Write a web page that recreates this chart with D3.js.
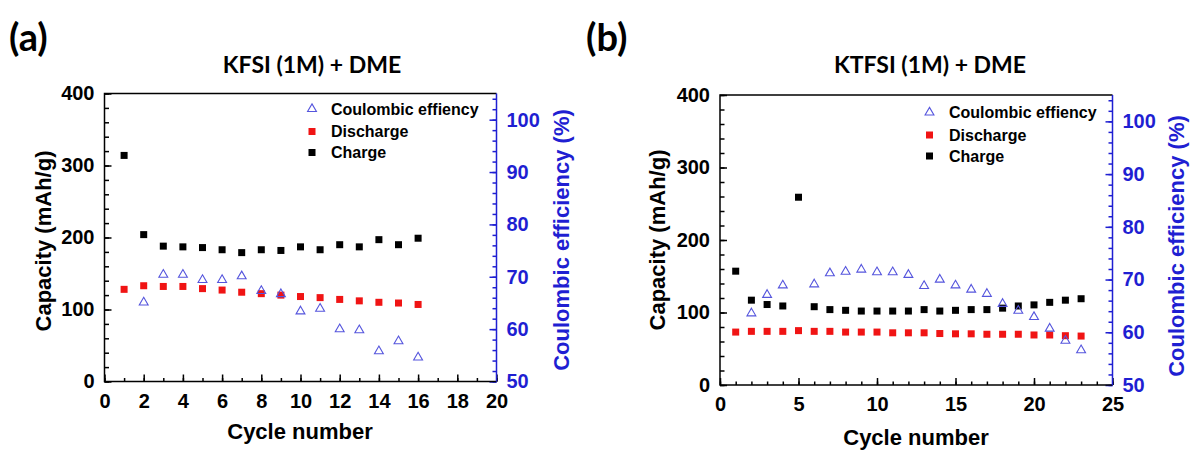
<!DOCTYPE html>
<html>
<head>
<meta charset="utf-8">
<style>
body { margin: 0; background: #fff; }
svg text { font-family: "Liberation Sans", Arial, sans-serif; font-weight: bold; }
</style>
</head>
<body>
<script src="https://cdn.jsdelivr.net/npm/d3@7"></script>
<script>
// (a) KFSI (1M) + DME
var cycleA     = [1, 2, 3, 4, 5, 6, 7, 8, 9, 10, 11, 12, 13, 14, 15, 16];
var chargeA    = [314, 204, 188, 187, 186, 183, 179, 183, 182, 187, 183, 190, 187, 197, 190, 199];
var dischargeA = [128, 133, 132, 132, 129, 127, 124, 122, 120, 118, 116.5, 114, 112, 110, 109, 107];
var ceCycleA   = [2, 3, 4, 5, 6, 7, 8, 9, 10, 11, 12, 13, 14, 15, 16];
var ceA        = [65.1, 70.4, 70.4, 69.4, 69.4, 70.1, 67.3, 66.7, 63.4, 63.9, 60.0, 59.8, 55.8, 57.7, 54.6];

// (b) KTFSI (1M) + DME
var cycleB     = [1, 2, 3, 4, 5, 6, 7, 8, 9, 10, 11, 12, 13, 14, 15, 16, 17, 18, 19, 20, 21, 22, 23];
var chargeB    = [157, 117, 111, 109, 259, 108, 104, 103, 102, 102, 102, 102, 104, 102, 103, 104, 104, 106, 109, 110.5, 114, 117, 119];
var dischargeB = [73, 74, 74, 74, 75, 74, 74, 73, 73, 73, 72, 72, 72, 71, 70.6, 70.6, 70, 70, 70, 69, 69, 68, 67.5];
var ceCycleB   = [2, 3, 4, 6, 7, 8, 9, 10, 11, 12, 13, 14, 15, 16, 17, 18, 19, 20, 21, 22, 23];
var ceB        = [63.6, 67.1, 68.9, 69.1, 71.2, 71.5, 71.9, 71.4, 71.4, 70.9, 68.8, 70.0, 68.9, 68.1, 67.3, 65.4, 64.1, 62.9, 60.7, 58.4, 56.6];

var legendLabels = ["Coulombic effiency", "Discharge", "Charge"];

var blue = "#1f1fd2";
var triColor = "#5555dd";
var red = "#f01414";

var svg = d3.select("body").append("svg")
    .attr("width", 1190)
    .attr("height", 450);

function drawPanel(p) {
    var x = d3.scaleLinear().domain([0, p.xMax]).range([p.left, p.right]);
    var y = d3.scaleLinear().domain([0, 400]).range([p.bottom, p.top]);
    var y2 = d3.scaleLinear().domain([50, 105]).range([p.bottom, p.top]);

    var g = svg.append("g");

    // minor ticks
    g.append("g")
        .attr("transform", "translate(0," + p.bottom + ")")
        .call(d3.axisBottom(x).tickValues(d3.range(0, p.xMax + 1, 1)).tickSize(-3.5).tickFormat(""))
        .call(function(a) { a.select(".domain").remove(); });
    g.append("g")
        .attr("transform", "translate(" + p.left + ",0)")
        .call(d3.axisLeft(y).tickValues(d3.range(0, 401, 20)).tickSize(-4.5).tickFormat(""))
        .call(function(a) { a.select(".domain").remove(); });
    g.append("g")
        .attr("transform", "translate(" + p.right + ",0)")
        .call(d3.axisRight(y2).tickValues(d3.range(50, 105, 2)).tickSize(-4).tickFormat(""))
        .call(function(a) { a.select(".domain").remove(); a.selectAll("line").attr("stroke", blue); });

    // major ticks + labels
    var xAxis = g.append("g")
        .attr("transform", "translate(0," + p.bottom + ")")
        .call(d3.axisBottom(x).tickValues(d3.range(0, p.xMax + 1, p.xStep)).tickSize(-7).tickPadding(12));
    xAxis.select(".domain").remove();

    var yAxis = g.append("g")
        .attr("transform", "translate(" + p.left + ",0)")
        .call(d3.axisLeft(y).tickValues([0, 100, 200, 300, 400]).tickSize(-7).tickPadding(10));
    yAxis.select(".domain").remove();

    var y2Axis = g.append("g")
        .attr("transform", "translate(" + p.right + ",0)")
        .call(d3.axisRight(y2).tickValues([50, 60, 70, 80, 90, 100]).tickSize(-7).tickPadding(10));
    y2Axis.select(".domain").remove();
    y2Axis.selectAll("line").attr("stroke", blue);
    y2Axis.selectAll("text").attr("fill", blue);

    g.selectAll(".tick text")
        .style("font-size", "20px")
        .style("font-family", "'Liberation Sans', Arial, sans-serif")
        .style("font-weight", "bold");
    g.selectAll(".tick line").attr("stroke-width", 1.5);
    xAxis.selectAll("text").attr("dy", "0.71em");

    // frame
    g.append("path")
        .attr("d", "M" + p.right + "," + p.top + "H" + p.left + "V" + p.bottom + "H" + p.right)
        .attr("fill", "none").attr("stroke", "#000").attr("stroke-width", 1.5);
    g.append("line")
        .attr("x1", p.right).attr("x2", p.right).attr("y1", p.top).attr("y2", p.bottom)
        .attr("stroke", blue).attr("stroke-width", 1.5);

    var sq = 7;
    g.selectAll(".dis").data(p.cycle).enter().append("rect")
        .attr("x", function(d) { return x(d) - sq / 2; })
        .attr("y", function(d, i) { return y(p.discharge[i]) - sq / 2; })
        .attr("width", sq).attr("height", sq).attr("fill", red);
    g.selectAll(".chg").data(p.cycle).enter().append("rect")
        .attr("x", function(d) { return x(d) - sq / 2; })
        .attr("y", function(d, i) { return y(p.charge[i]) - sq / 2; })
        .attr("width", sq).attr("height", sq).attr("fill", "#000");

    var tri = d3.symbol().type(d3.symbolTriangle).size(34);
    g.selectAll(".ce").data(p.ceCycle).enter().append("path")
        .attr("d", tri)
        .attr("transform", function(d, i) { return "translate(" + x(d) + "," + y2(p.ce[i]) + ")"; })
        .attr("fill", "none").attr("stroke", triColor).attr("stroke-width", 1.1);

    // legend
    var lg = g.append("g");
    lg.append("path").attr("d", tri)
        .attr("transform", "translate(" + p.legX + "," + p.legY[0] + ")")
        .attr("fill", "none").attr("stroke", triColor).attr("stroke-width", 1.1);
    lg.append("rect").attr("x", p.legX - 3.5).attr("y", p.legY[1] - 3.5)
        .attr("width", 7).attr("height", 7).attr("fill", red);
    lg.append("rect").attr("x", p.legX - 3.5).attr("y", p.legY[2] - 3.5)
        .attr("width", 7).attr("height", 7).attr("fill", "#000");
    legendLabels.forEach(function(t, i) {
        lg.append("text").attr("x", p.legTextX).attr("y", p.legY[i])
            .attr("dy", "0.36em").style("font-size", "16px").text(t);
    });

    // titles
    g.append("text").attr("x", p.titleX).attr("y", 65).attr("dy", "0.35em")
        .attr("text-anchor", "middle")
        .style("font-family", "Lato, sans-serif").style("font-size", "23px")
        .text(p.title);
    g.append("text").attr("x", p.letterX).attr("y", 38).attr("dy", "0.35em")
        .style("font-family", "Lato, sans-serif").style("font-size", "38px")
        .text(p.letter);

    g.append("text").attr("x", p.xTitleX).attr("y", p.xTitleY).attr("dy", "0.35em")
        .attr("text-anchor", "middle").style("font-size", "22px")
        .text("Cycle number");
    g.append("text")
        .attr("transform", "translate(" + p.yTitleX + "," + p.yTitleY + ") rotate(-90)")
        .attr("dy", "0.35em").attr("text-anchor", "middle").style("font-size", "22px")
        .text("Capacity (mAh/g)");
    g.append("text")
        .attr("transform", "translate(" + p.y2TitleX + "," + p.y2TitleY + ") rotate(-90)")
        .attr("dy", "0.35em").attr("text-anchor", "middle").style("font-size", "22px")
        .attr("fill", blue)
        .text("Coulombic efficiency (%)");
}

drawPanel({
    left: 104.5, right: 496.5, top: 93.5, bottom: 381.5,
    xMax: 20, xStep: 2,
    cycle: cycleA, charge: chargeA, discharge: dischargeA, ceCycle: ceCycleA, ce: ceA,
    legX: 312, legY: [109, 131.5, 152.5], legTextX: 331,
    title: "KFSI (1M) + DME", titleX: 312, letter: "(a)", letterX: 9,
    xTitleX: 300, xTitleY: 431, yTitleX: 43, yTitleY: 241, y2TitleX: 561, y2TitleY: 240
});

drawPanel({
    left: 720, right: 1112.5, top: 95, bottom: 385,
    xMax: 25, xStep: 5,
    cycle: cycleB, charge: chargeB, discharge: dischargeB, ceCycle: ceCycleB, ce: ceB,
    legX: 929.5, legY: [112.5, 135, 156], legTextX: 949,
    title: "KTFSI (1M) + DME", titleX: 930, letter: "(b)", letterX: 586,
    xTitleX: 916, xTitleY: 437, yTitleX: 657, yTitleY: 240, y2TitleX: 1176, y2TitleY: 246
});
</script>
</body>
</html>
